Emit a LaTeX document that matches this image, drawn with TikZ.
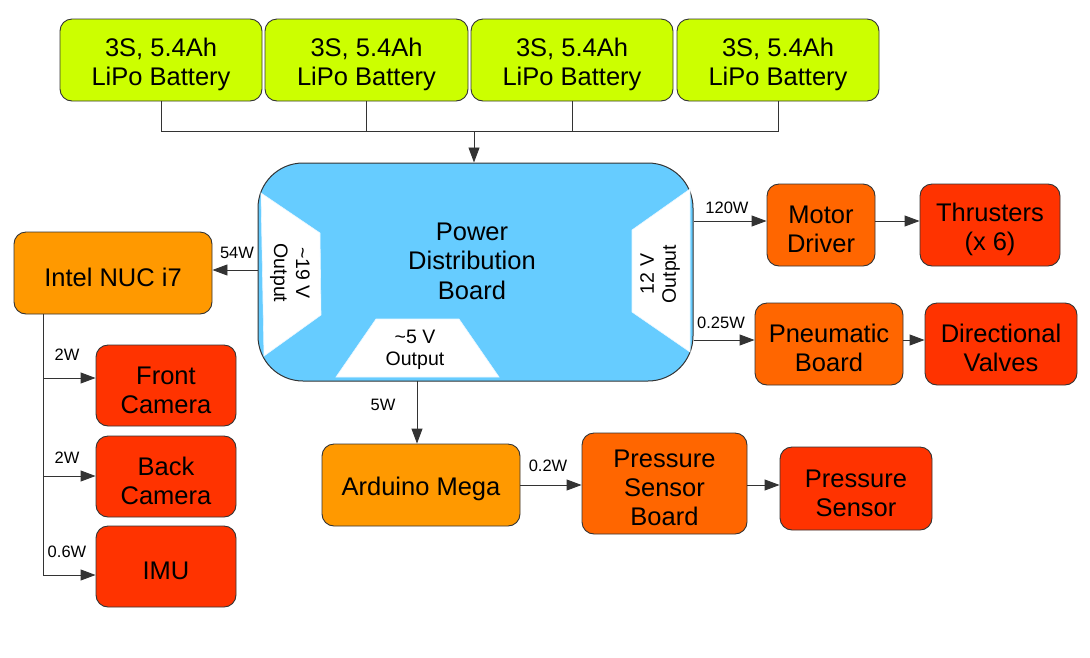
\documentclass[tikz,border=0pt]{standalone}
\usepackage{fontspec}
\setmainfont{Liberation Sans}
\usetikzlibrary{arrows.meta}
\definecolor{batt}{HTML}{CCFF00}
\definecolor{pdbc}{HTML}{66CCFF}
\definecolor{orng}{HTML}{FF9900}
\definecolor{dorng}{HTML}{FF6600}
\definecolor{redc}{HTML}{FF3300}
\definecolor{linec}{HTML}{333333}
\tikzset{
  box/.style={draw=linec, line width=0.9pt, rounded corners=12pt, align=center, inner sep=0pt,
    font=\fontsize{25.5}{29}\selectfont, execute at begin node={\rule{0pt}{27pt}}},
  mbox/.style={box, execute at begin node={\rule{0pt}{56pt}}},
  tbox/.style={box, execute at begin node={\rule{0pt}{85pt}}},
  battbox/.style={mbox, fill=batt, minimum width=202pt, minimum height=82pt},
  lbl/.style={font=\fontsize{16.5}{19}\selectfont, inner sep=0pt},
  trap/.style={fill=white, draw=white!85!pdbc, line width=0.6pt},
  traptext/.style={font=\fontsize{19.5}{22}\selectfont, align=center, inner sep=0pt},
  conn/.style={draw=linec, line width=0.9pt},
  arr/.style={conn, -{Triangle[length=15pt,width=11pt]}},
}
\begin{document}
\begin{tikzpicture}[x=1pt,y=-1pt]
\useasboundingbox (0,0) rectangle (1090,657);
% batteries
\node[battbox] (b1) at (161,60) {3S, 5.4Ah\\LiPo Battery};
\node[battbox, minimum width=203pt] (b2) at (366.5,60) {3S, 5.4Ah\\LiPo Battery};
\node[battbox] (b3) at (572,60) {3S, 5.4Ah\\LiPo Battery};
\node[battbox] (b4) at (778,60) {3S, 5.4Ah\\LiPo Battery};
\coordinate (bus) at (474,131);
\draw[conn] (b1.south) |- (bus);
\draw[conn] (b2.south) |- (bus);
\draw[conn] (b3.south) |- (bus);
\draw[conn] (b4.south) |- (bus);
% PDB
\node[draw=linec, line width=1pt, fill=pdbc, rounded corners=45pt, minimum width=435pt, minimum height=218pt, inner sep=0pt] (pdb) at (475.5,272) {};
\draw[arr] (bus) -- (bus |- pdb.north);
\draw[trap] (261,193) -- (320,233) -- (321,315) -- (264,356) -- cycle;
\draw[trap] (690,189) -- (632,230) -- (632,312) -- (690,352) -- cycle;
\draw[trap] (376,319) -- (459,319) -- (499,377) -- (336,377) -- cycle;
\node[traptext, rotate=-90] (t19) at (290,273) {\textasciitilde19 V\\Output};
\node[traptext, rotate=90] (t12) at (660,274) {12 V\\Output};
\node[traptext] (t5) at (415,350) {\textasciitilde5 V\\Output};
\node[align=center, inner sep=0pt, font=\fontsize{25.5}{29.5}\selectfont] (pdbt) at (472,261) {Power\\Distribution\\Board};
% NUC side
\node[box, fill=orng, minimum width=198pt, minimum height=82pt] (nuc) at (113,273) {Intel NUC i7};
\draw[arr] (pdb.west |- 0,270) -- (nuc.east |- 0,270);
\node[lbl] (l54) at (237,253) {54W};
\node[mbox, fill=redc, minimum width=140pt, minimum height=81pt] (front) at (166,385.5) {Front\\Camera};
\node[mbox, fill=redc, minimum width=140pt, minimum height=81pt] (back) at (166,476.5) {Back\\Camera};
\node[box, fill=redc, minimum width=140pt, minimum height=81pt] (imu) at (166,566.5) {IMU};
\coordinate (tap) at (43,575);
\draw[conn] (nuc.south -| tap) -- (tap);
\draw[arr] (tap |- 0,378) -- (front.west |- 0,378);
\draw[arr] (tap |- 0,476) -- (back.west |- 0,476);
\draw[arr] (tap) -- (imu.west |- tap);
\node[lbl] (l2a) at (67,355) {2W};
\node[lbl] (l2b) at (67,458) {2W};
\node[lbl] (l06) at (67,552) {0.6W};
% right side
\node[mbox, fill=dorng, minimum width=108pt, minimum height=82pt] (motor) at (821,225) {Motor\\Driver};
\node[mbox, fill=redc, minimum width=140pt, minimum height=82pt] (thr) at (990,225) {Thrusters\\(x 6)};
\draw[arr] (pdb.east |- 0,221) -- (motor.west |- 0,221);
\draw[arr] (motor.east |- 0,221) -- (thr.west |- 0,221);
\node[lbl] (l120) at (727,208) {120W};
\node[mbox, fill=dorng, minimum width=148pt, minimum height=82pt] (pneu) at (829,344) {Pneumatic\\Board};
\node[mbox, fill=redc, minimum width=152pt, minimum height=82pt] (valv) at (1001,344) {Directional\\Valves};
\draw[arr] (pdb.east |- 0,340) -- (pneu.west |- 0,340);
\draw[arr] (pneu.east |- 0,340) -- (valv.west |- 0,340);
\node[lbl] (l025) at (721,323) {0.25W};
% bottom
\node[box, fill=orng, minimum width=198pt, minimum height=82pt] (ard) at (421,485) {Arduino Mega};
\draw[arr] (417,381) -- (ard.north -| 417,0);
\node[lbl] (l5) at (383,405) {5W};
\node[tbox, fill=dorng, minimum width=165pt, minimum height=101pt] (psb) at (664.5,483.5) {Pressure\\Sensor\\Board};
\node[mbox, fill=redc, minimum width=152pt, minimum height=83pt] (ps) at (856,488.5) {Pressure\\Sensor};
\draw[arr] (ard.east |- 0,485) -- (psb.west |- 0,485);
\draw[arr] (psb.east |- 0,485) -- (ps.west |- 0,485);
\node[lbl] (l02) at (548,466) {0.2W};
\end{tikzpicture}
\end{document}
